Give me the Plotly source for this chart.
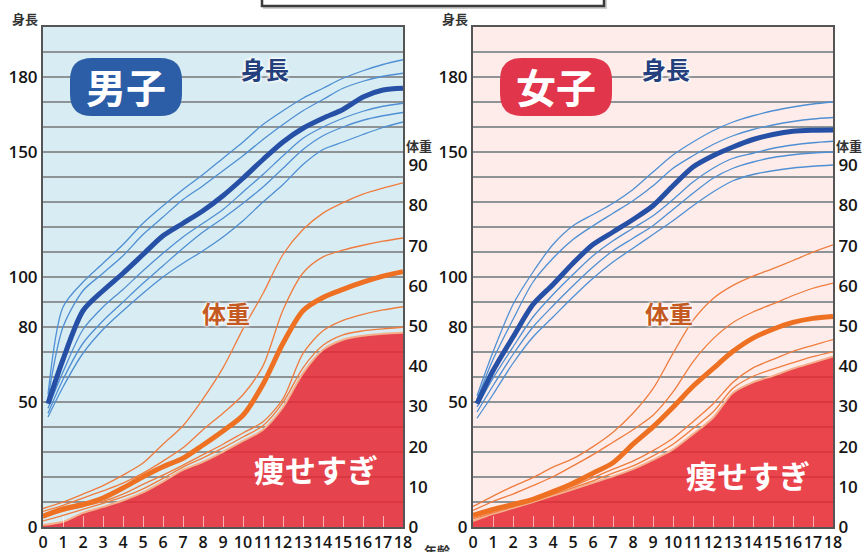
import plotly.graph_objects as go

W, H = 865, 552

# ---------------- data ----------------
ages = list(range(19))                       # 0 .. 18 years
h_ages_boys = [0.25] + list(range(1, 19))
h_ages_girls = [0.2] + list(range(1, 19))

# Boys height (cm): median (thick) and percentile-like thin curves
boys_h_median = [49.3, 67, 86.5, 94.5, 101.5, 109, 116.5, 121.5, 126.5, 132.5, 139.5, 147, 154, 159.5, 163.5, 167, 172, 174.8, 175.5]
boys_h_top1 = [53, 88, 98, 105.5, 113, 121.5, 128.5, 135, 141, 147.5, 154, 161, 166.5, 171.5, 175.5, 179.5, 182.5, 185, 186.9]
boys_h_top2 = [51.5, 80, 94.5, 101.5, 108.5, 117, 124, 131, 136.5, 142.5, 148.5, 155, 161, 166.5, 171, 175.5, 178.3, 180.3, 181.5]
boys_h_low1 = [47.5, 62, 79, 88, 95, 102.5, 109.5, 116, 121.5, 127, 134, 141, 148.5, 155.5, 160, 163.5, 166.3, 168.3, 169.5]
boys_h_low2 = [45.5, 59, 73.5, 82.5, 90, 97.5, 104.5, 111.5, 118, 123.5, 129.5, 136, 143.5, 151, 156.5, 160, 162.7, 164.5, 165.8]
boys_h_low3 = [44, 56, 69.5, 79, 86.5, 93.5, 100, 105.5, 110.5, 116, 122.5, 130, 137, 145, 151, 154, 157, 159.8, 162]

# Girls height (cm)
girls_h_median = [49.3, 62.5, 76, 89, 97, 105.5, 113, 118, 123, 128.5, 136.5, 144, 148.5, 152, 155, 157, 158.3, 158.7, 158.8]
girls_h_top1 = [52.5, 70, 89, 102, 113, 120.5, 125, 129.5, 135, 142, 148.8, 154, 158.5, 162, 164.5, 166.5, 168, 169.2, 170]
girls_h_top2 = [51, 67, 83, 98, 107.5, 115, 120.5, 125.5, 130.5, 136.5, 143.5, 148.5, 153, 156.5, 159, 160.8, 162.2, 163.2, 163.8]
girls_h_low1 = [48, 59.5, 72, 84, 93, 101, 108.5, 114.5, 119.5, 124.5, 131, 138, 143.5, 147.5, 149.5, 151.5, 152.8, 153.7, 154.3]
girls_h_low2 = [46, 56.5, 69, 80, 88.5, 96.5, 104, 110.5, 115.5, 120.5, 127, 133.5, 139.5, 143.5, 146, 147.8, 148.9, 149.6, 150]
girls_h_low3 = [43.5, 53, 65.5, 76, 84, 92, 99.5, 106, 111.5, 117, 122.5, 128.5, 134, 138.5, 141, 142.5, 143.6, 144.3, 144.8]

# Boys weight (kg)
boys_w_median = [2.7, 4.5, 5.6, 7.2, 9.7, 12.5, 15.0, 17.1, 20.4, 23.9, 27.8, 35.5, 45.7, 53.8, 57.1, 59.1, 60.9, 62.4, 63.5]
boys_w_top1 = [4.6, 6.2, 8.2, 10.3, 12.9, 15.9, 20.6, 25.2, 31.9, 39.6, 49.3, 58.1, 67.8, 74.0, 78.1, 80.7, 82.8, 84.3, 85.6]
boys_w_top2 = [3.9, 5.4, 7.2, 9.0, 10.9, 13.4, 16.4, 19.7, 24.2, 28.3, 32.9, 40.1, 54.0, 63.2, 67.2, 68.9, 70.1, 71.1, 71.9]
boys_w_low1 = [2.3, 3.9, 5.1, 6.4, 8.2, 10.6, 12.9, 15.4, 18.0, 20.6, 23.4, 26.2, 31.9, 43.2, 48.8, 51.4, 52.9, 54.0, 54.8]
boys_w_low2 = [1.5, 2.9, 4.4, 5.9, 7.5, 9.5, 12.1, 14.9, 17.2, 19.7, 22.4, 25.2, 31.0, 39.6, 45.2, 47.8, 48.8, 49.3, 49.7]
boys_w_thin = [0.5, 1.3, 3.5, 5.0, 6.6, 8.6, 11.3, 14.2, 16.2, 18.7, 21.4, 24.2, 29.8, 38.3, 44.1, 46.6, 47.6, 48.1, 48.3]   # 痩せすぎ boundary

# Girls weight (kg)
girls_w_median = [2.9, 4.4, 5.6, 6.9, 8.8, 10.9, 13.4, 16.0, 20.6, 24.9, 29.8, 35.0, 39.4, 43.7, 47.0, 49.2, 50.9, 51.9, 52.4]
girls_w_top1 = [5.1, 7.7, 10.1, 12.3, 14.9, 17.0, 20.0, 23.6, 28.3, 34.4, 43.2, 51.4, 56.8, 60.1, 62.4, 64.3, 66.3, 68.4, 70.2]
girls_w_top2 = [4.1, 6.4, 8.2, 10.3, 12.5, 15.2, 18.0, 21.1, 24.2, 27.8, 33.6, 41.1, 46.8, 50.9, 53.5, 55.5, 57.6, 59.4, 60.7]
girls_w_low1 = [2.4, 3.9, 5.2, 6.7, 8.4, 10.2, 12.3, 14.4, 16.4, 19.0, 22.1, 26.2, 30.6, 36.0, 39.6, 41.7, 43.7, 45.2, 46.6]
girls_w_low2 = [2.0, 3.6, 5.0, 6.5, 8.1, 9.8, 11.5, 13.4, 15.2, 17.7, 20.6, 24.5, 28.6, 34.5, 37.5, 39.3, 40.9, 42.4, 43.6]
girls_w_thin = [1.5, 3.3, 4.7, 6.2, 7.8, 9.4, 11.0, 12.6, 14.4, 16.7, 19.3, 23.1, 27.2, 33.4, 36.0, 37.6, 39.4, 40.9, 42.4]

# axis ticks
height_grid = list(range(0, 200, 10))
height_labels = [0, 50, 80, 100, 150, 180]
weight_ticks = list(range(0, 100, 10))

# ---------------- styling ----------------
BLUE_THIN = "#4f8fd3"
BLUE_THICK = "#2550a6"
ORANGE_THIN = "#ef7c3e"
ORANGE_THICK = "#ee7022"
RED_FILL = "rgba(230,40,50,0.86)"
GRID = "#8e9396"
AXIS = "#555555"
JP = "Noto Sans CJK JP"
NUM = "Open Sans"

fig = go.Figure()


def add_panel(xa, ya_h, ya_w, h_ages, h_med, h_thin, w_med, w_thin, w_edge):
    fig.add_trace(go.Scatter(x=ages, y=w_edge, xaxis=xa, yaxis=ya_w, mode="lines",
                             fill="tozeroy", fillcolor=RED_FILL,
                             line=dict(color="#f4b08c", width=2, shape="spline", smoothing=0.8),
                             hoverinfo="skip", showlegend=False))
    for s in w_thin:
        fig.add_trace(go.Scatter(x=ages, y=s, xaxis=xa, yaxis=ya_w, mode="lines",
                                 line=dict(color=ORANGE_THIN, width=1.3, shape="spline", smoothing=0.8),
                                 hoverinfo="skip", showlegend=False))
    fig.add_trace(go.Scatter(x=ages, y=w_med, xaxis=xa, yaxis=ya_w, mode="lines",
                             line=dict(color=ORANGE_THICK, width=5, shape="spline", smoothing=0.8),
                             hoverinfo="skip", showlegend=False))
    for s in h_thin:
        fig.add_trace(go.Scatter(x=h_ages, y=s, xaxis=xa, yaxis=ya_h, mode="lines",
                                 line=dict(color=BLUE_THIN, width=1.3, shape="spline", smoothing=0.8),
                                 hoverinfo="skip", showlegend=False))
    fig.add_trace(go.Scatter(x=h_ages, y=h_med, xaxis=xa, yaxis=ya_h, mode="lines",
                             line=dict(color=BLUE_THICK, width=5, shape="spline", smoothing=0.8),
                             hoverinfo="skip", showlegend=False))


add_panel("x", "y", "y2", h_ages_boys, boys_h_median,
          [boys_h_top1, boys_h_top2, boys_h_low1, boys_h_low2, boys_h_low3],
          boys_w_median, [boys_w_top1, boys_w_top2, boys_w_low1, boys_w_low2], boys_w_thin)
add_panel("x2", "y3", "y4", h_ages_girls, girls_h_median,
          [girls_h_top1, girls_h_top2, girls_h_low1, girls_h_low2, girls_h_low3],
          girls_w_median, [girls_w_top1, girls_w_top2, girls_w_low1, girls_w_low2], girls_w_thin)

ydom = [(H - 527) / H, (H - 27) / H]
num_font = dict(family=NUM, size=17, color="#151515", weight=600)
xnum_font = dict(family=NUM, size=16, color="#151515", weight=600)

xcommon = dict(range=[0, 18], tickmode="array", tickvals=ages, ticktext=[str(a) for a in ages],
               tickangle=0, automargin=False,
               ticks="inside", ticklen=11, tickwidth=1, tickcolor="rgba(255,255,255,0.6)",
               showline=True, linecolor=AXIS, linewidth=1.5, mirror=True,
               showgrid=False, zeroline=False, tickfont=xnum_font, fixedrange=True)
hcommon = dict(range=[0, 200], domain=ydom, tickmode="array", tickvals=height_grid,
               ticktext=[str(v) if v in height_labels else "" for v in height_grid],
               automargin=False,
               showgrid=True, gridcolor=GRID, gridwidth=1.6, showline=True, linecolor=AXIS,
               linewidth=2, ticks="", zeroline=False, tickfont=num_font, fixedrange=True)
wcommon = dict(range=[0, 124.4], tickmode="array", tickvals=weight_ticks,
               ticktext=[str(v) for v in weight_ticks], side="right", showgrid=False,
               automargin=False,
               showline=True, linecolor=AXIS, linewidth=2, ticks="", zeroline=False,
               tickfont=num_font, fixedrange=True)

fig.update_layout(
    width=W, height=H, margin=dict(l=0, r=0, t=0, b=0, autoexpand=False),
    paper_bgcolor="white", plot_bgcolor="rgba(0,0,0,0)", showlegend=False,
    xaxis=dict(domain=[43 / W, 403 / W], anchor="y", **xcommon),
    xaxis2=dict(domain=[473 / W, 833 / W], anchor="y3", **xcommon),
    yaxis=dict(anchor="x", **hcommon),
    yaxis2=dict(anchor="x", overlaying="y", **wcommon),
    yaxis3=dict(anchor="x2", **hcommon),
    yaxis4=dict(anchor="x2", overlaying="y3", **wcommon),
)


def px(x):
    return x / W


def py(y):
    return (H - y) / H


def rrect(x0, y0, x1, y1, r):
    return (f"M {px(x0 + r)} {py(y0)} L {px(x1 - r)} {py(y0)} Q {px(x1)} {py(y0)} {px(x1)} {py(y0 + r)} "
            f"L {px(x1)} {py(y1 - r)} Q {px(x1)} {py(y1)} {px(x1 - r)} {py(y1)} "
            f"L {px(x0 + r)} {py(y1)} Q {px(x0)} {py(y1)} {px(x0)} {py(y1 - r)} "
            f"L {px(x0)} {py(y0 + r)} Q {px(x0)} {py(y0)} {px(x0 + r)} {py(y0)} Z")


shapes = [
    dict(type="rect", xref="x domain", yref="y domain", x0=0, x1=1, y0=0, y1=1,
         fillcolor="#d8ecf3", line=dict(width=0), layer="below"),
    dict(type="rect", xref="x2 domain", yref="y3 domain", x0=0, x1=1, y0=0, y1=1,
         fillcolor="#fdecea", line=dict(width=0), layer="below"),
    dict(type="rect", xref="paper", yref="paper", x0=px(263), x1=px(607), y0=py(9), y1=1.2,
         fillcolor="#cfcfcf", line=dict(width=0)),
    dict(type="rect", xref="paper", yref="paper", x0=px(262), x1=px(604), y0=py(6), y1=1.2,
         fillcolor="white", line=dict(color="#3c3c3c", width=2.5)),
    dict(type="path", xref="paper", yref="paper", path=rrect(70, 58, 182, 116, 22),
         fillcolor="#2b5ea7", line=dict(width=0)),
    dict(type="path", xref="paper", yref="paper", path=rrect(500, 58, 612, 116, 22),
         fillcolor="#e1354c", line=dict(width=0)),
]
fig.update_layout(shapes=shapes)

glow = "0px 0px 3px #ffffff, 0px 0px 3px #ffffff, 0px 0px 4px #ffffff"


def label(text, x, y, size, color, xanchor="center", weight="bold", shadow=None):
    f = dict(family=JP, size=size, color=color, weight=weight)
    if shadow:
        f["shadow"] = shadow
    fig.add_annotation(text=text, x=px(x), y=py(y), xref="paper", yref="paper",
                       xanchor=xanchor, yanchor="middle", showarrow=False, font=f)


label("男子", 126, 86, 40, "white")
label("女子", 556, 86, 40, "white")
label("身長", 265, 68, 24, "#233f7c", shadow=glow)
label("身長", 666, 68, 24, "#233f7c", shadow=glow)
label("体重", 226, 312, 24, "#c45a22", shadow=glow)
label("体重", 669, 312, 24, "#c45a22", shadow=glow)
label("痩せすぎ", 316, 468, 31, "white")
label("痩せすぎ", 748, 474, 31, "white")
label("身長", 25, 18, 13, "#333333")
label("身長", 455, 18, 13, "#333333")
label("体重", 404, 146, 13, "#333333", xanchor="left")
label("体重", 834, 146, 13, "#333333", xanchor="left")
label("年齢", 437, 550, 13, "#333333")

fig.write_html("out.html", config={"displayModeBar": False},
               post_script="document.body.style.margin='0';document.body.style.padding='0';")
